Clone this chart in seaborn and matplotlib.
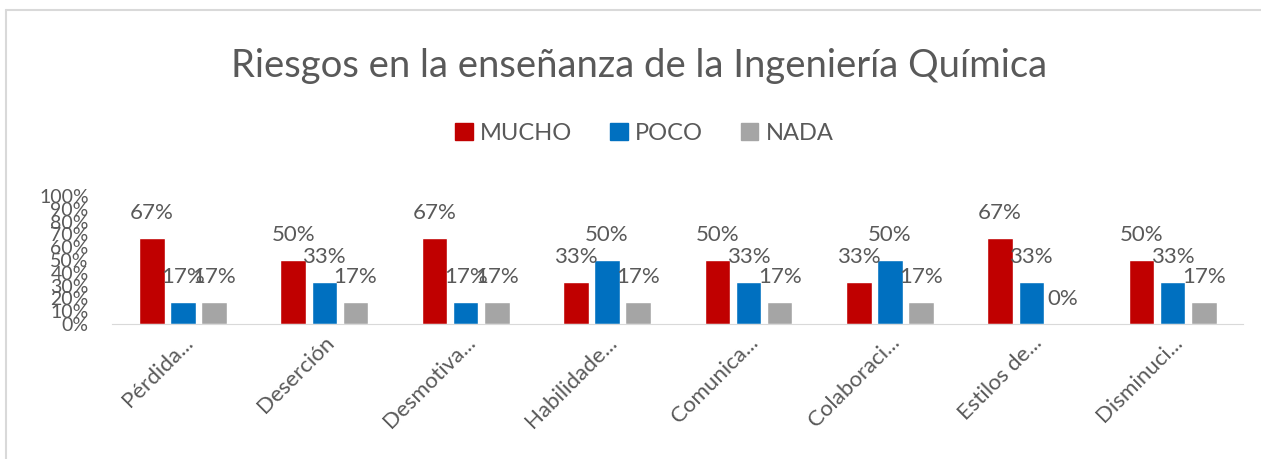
import pandas as pd
import numpy as np
import seaborn as sns
import matplotlib.pyplot as plt
from matplotlib.patches import Rectangle
from matplotlib.lines import Line2D
from matplotlib.ticker import PercentFormatter, MultipleLocator

categorias = ['Pérdida...', 'Deserción', 'Desmotiva...', 'Habilidade...',
              'Comunica...', 'Colaboraci...', 'Estilos de...', 'Disminuci...']
mucho = [67, 50, 67, 33, 50, 33, 67, 50]
poco = [17, 33, 17, 50, 33, 50, 33, 33]
nada = [17, 17, 17, 17, 17, 17, 0, 17]
niveles = ['MUCHO', 'POCO', 'NADA']
colores = ['#C00000', '#0070C0', '#A5A5A5']

df = pd.DataFrame({'MUCHO': mucho, 'POCO': poco, 'NADA': nada}, index=categorias)
df = df.reset_index().melt(id_vars='index', var_name='Nivel', value_name='valor')
df = df.rename(columns={'index': 'categoria'})

sns.set_style('white')
plt.rcParams['font.family'] = ['Lato', 'DejaVu Sans']
gris = '#595959'

fig = plt.figure(figsize=(12.61, 4.59), dpi=100)
ax = fig.add_axes([0.089, 0.294, 0.897, 0.279])

sns.barplot(data=df, x='categoria', y='valor', hue='Nivel', hue_order=niveles,
            palette=colores, saturation=1, width=0.66, gap=0.18, ax=ax, legend=False)

for cont, nivel in zip(ax.containers, niveles):
    vals = df[df['Nivel'] == nivel]['valor'].tolist()
    ax.bar_label(cont, labels=[f'{v}%' for v in vals], padding=11,
                 fontsize=16, color=gris)

ax.set_ylim(0, 100)
ax.yaxis.set_major_locator(MultipleLocator(10))
ax.yaxis.set_major_formatter(PercentFormatter(decimals=0))
ax.set_xlabel('')
ax.set_ylabel('')
ax.tick_params(axis='y', labelsize=14, labelcolor=gris, length=0, pad=17)
ax.tick_params(axis='x', labelsize=16, labelcolor=gris, length=0, pad=6)
plt.setp(ax.get_xticklabels(), rotation=45, ha='right', rotation_mode='anchor')
for s in ['top', 'right', 'left']:
    ax.spines[s].set_visible(False)
ax.spines['bottom'].set_color('#D9D9D9')

fig.suptitle('Riesgos en la enseñanza de la Ingeniería Química',
             x=0.507, y=0.895, fontsize=27.5, color=gris)

handles = [Rectangle((0, 0), 1, 1, color=c) for c in colores]
fig.legend(handles, niveles, loc='center', bbox_to_anchor=(0.511, 0.71), ncol=3,
           frameon=False, fontsize=17, labelcolor=gris, handlelength=0.75,
           handleheight=0.75, handletextpad=0.3, columnspacing=1.6)

# borde del area del grafico (solo arriba e izquierda visibles)
fig.add_artist(Line2D([0.005, 1.0], [0.978, 0.978], transform=fig.transFigure,
                      color='#D9D9D9', linewidth=1.5))
fig.add_artist(Line2D([0.005, 0.005], [0.0, 0.978], transform=fig.transFigure,
                      color='#D9D9D9', linewidth=1.5))

fig.savefig('out.png', dpi=100)
